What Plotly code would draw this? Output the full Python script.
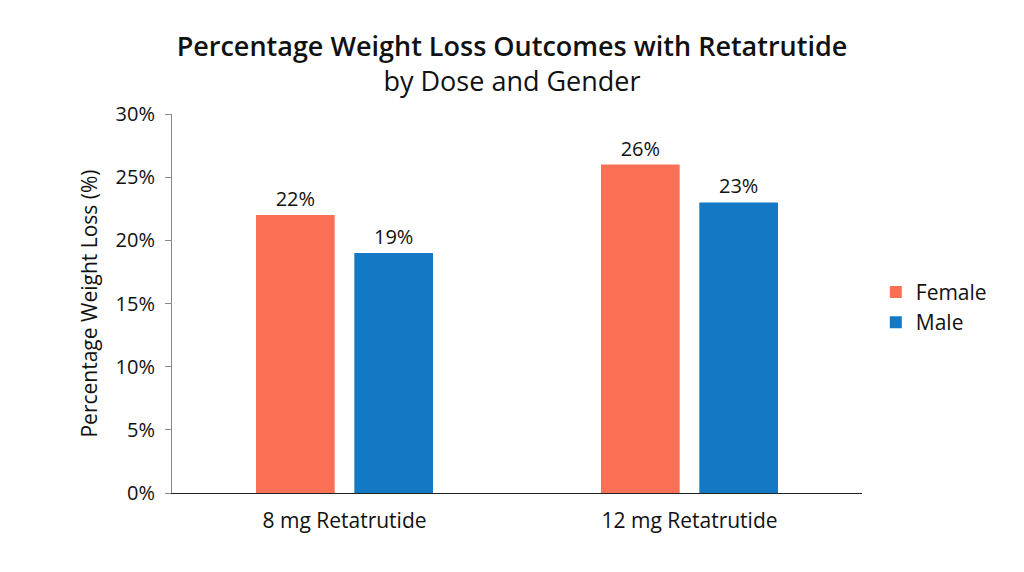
import plotly.graph_objects as go

doses = ["8 mg Retatrutide", "12 mg Retatrutide"]
female = [22, 26]
male = [19, 23]

female_color = "#F97054"
male_color = "#1479C4"
font_family = "Open Sans, Noto Sans, sans-serif"

fig = go.Figure()

fig.add_trace(
    go.Bar(
        x=doses,
        y=female,
        name="Female",
        marker=dict(color=female_color, line=dict(width=0)),
        text=[f"{v}%" for v in female],
        textposition="outside",
        textfont=dict(size=20, color="#111111"),
        cliponaxis=False,
    )
)
fig.add_trace(
    go.Bar(
        x=doses,
        y=male,
        name="Male",
        marker=dict(color=male_color, line=dict(width=0)),
        text=[f"{v}%" for v in male],
        textposition="outside",
        textfont=dict(size=20, color="#111111"),
        cliponaxis=False,
    )
)

# page body has an 8px margin, so the figure is sized to fit inside it
fig.update_layout(
    width=1008,
    height=556,
    paper_bgcolor="white",
    plot_bgcolor="white",
    font=dict(family=font_family, color="#111111"),
    title=dict(
        text="Percentage Weight Loss Outcomes with Retatrutide<br>"
        "<span style='font-size:27px;font-weight:400'>by Dose and Gender</span>",
        x=0.5,
        xanchor="center",
        y=0.913,
        yanchor="top",
        font=dict(size=27, color="#111111", weight=600),
    ),
    barmode="group",
    bargap=0.43,
    bargroupgap=0.2,
    margin=dict(l=164, r=154, t=106, b=71),
    legend=dict(
        x=1.02,
        xanchor="left",
        y=0.49,
        yanchor="middle",
        font=dict(size=21),
        itemwidth=30,
        tracegroupgap=4,
    ),
    xaxis=dict(
        showline=True,
        linecolor="#222222",
        linewidth=1,
        ticks="",
        tickfont=dict(size=21),
        ticklabelstandoff=9,
        showgrid=False,
    ),
    yaxis=dict(
        range=[0, 30],
        dtick=5,
        ticksuffix="%",
        showline=True,
        linecolor="#888888",
        linewidth=1,
        ticks="outside",
        ticklen=6,
        tickcolor="#888888",
        tickfont=dict(size=20),
        ticklabelstandoff=6,
        showgrid=False,
        zeroline=False,
        title=dict(text="Percentage Weight Loss (%)", font=dict(size=21), standoff=12),
    ),
)

fig.write_html("out.html")
